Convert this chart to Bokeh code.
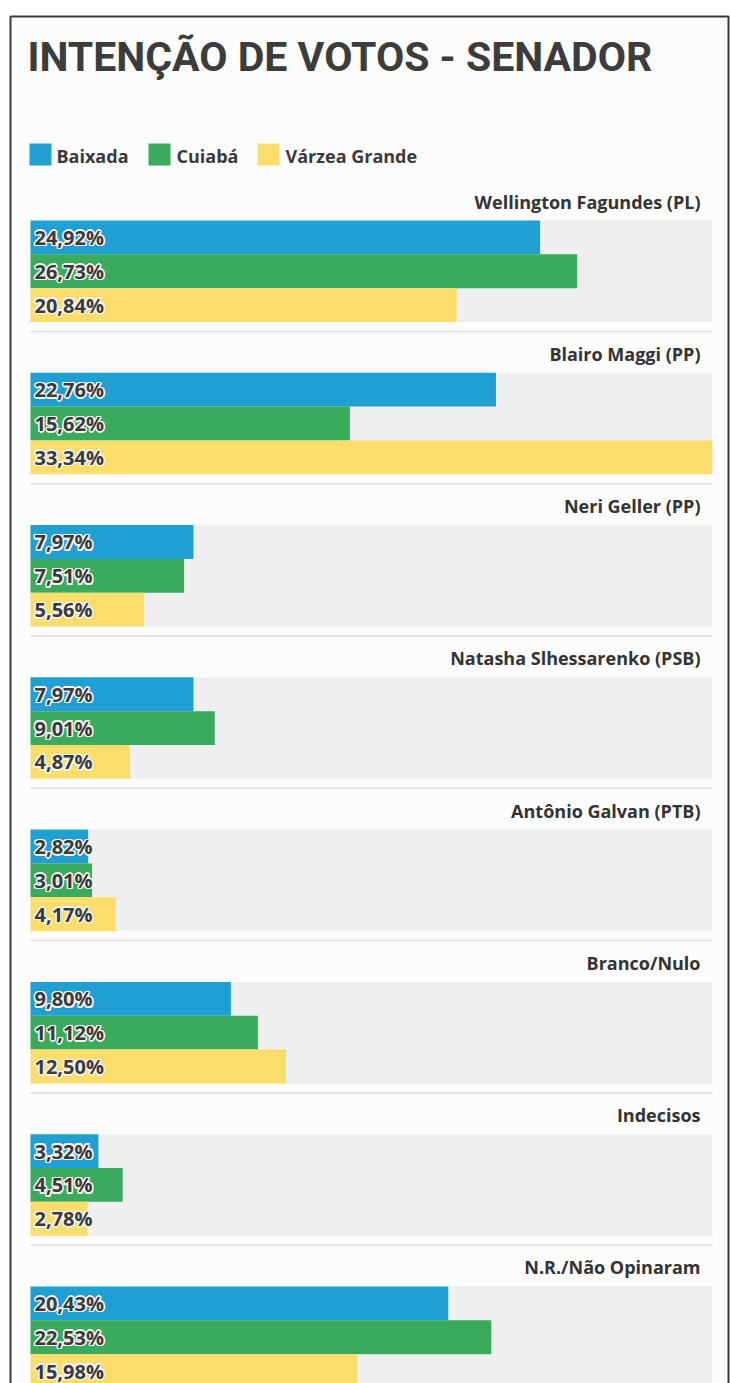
from bokeh.plotting import figure
from bokeh.models import Range1d
from bokeh.core.properties import value
from bokeh.embed import file_html
from bokeh.resources import INLINE

# ---- data ----
title = "INTENÇÃO DE VOTOS - SENADOR"
candidates = ["Wellington Fagundes (PL)", "Blairo Maggi (PP)", "Neri Geller (PP)",
              "Natasha Slhessarenko (PSB)", "Antônio Galvan (PTB)", "Branco/Nulo",
              "Indecisos", "N.R./Não Opinaram"]
regions = ["Baixada", "Cuiabá", "Várzea Grande"]
baixada = [24.92, 22.76, 7.97, 7.97, 2.82, 9.80, 3.32, 20.43]
cuiaba = [26.73, 15.62, 7.51, 9.01, 3.01, 11.12, 4.51, 22.53]
varzea = [20.84, 33.34, 5.56, 4.87, 4.17, 12.50, 2.78, 15.98]
series = [baixada, cuiaba, varzea]
colors = ["#1f9fd2", "#3aaa5c", "#fadd6a"]

# ---- geometry helpers (page pixels -> data units) ----
W, H = 730, 1383
OFF = 0         # page offset of the figure
PX = 20.45      # pixels per percentage point
X0 = 30         # page x of 0%
U = 33.84       # pixels per bar row
Y0 = 220        # page y of first bar top
G = 4.5         # rows per group


def dx(px):
    return (px - X0) / PX


def dy(py):
    return (py - Y0) / U


p = figure(width=W, height=H, output_backend="svg", toolbar_location=None,
           x_range=Range1d(dx(OFF), dx(OFF + W)), y_range=Range1d(dy(OFF + H), dy(OFF)),
           min_border=0, outline_line_color=None, background_fill_color="white",
           border_fill_color="white")
p.axis.visible = False
p.grid.visible = False

# frame
p.quad(left=[dx(10)], right=[dx(728)], top=[dy(16)], bottom=[dy(1420)],
       fill_color="#fcfcfc", line_color="#3a3a3a", line_width=2)

# title
p.text(x=[dx(27)], y=[dy(56)], text=[title], text_font=value("Roboto"),
       text_font_style="bold", text_font_size="41px", text_color="#3c3c3c",
       text_baseline="middle", text_align="left")

# legend
leg_sq_x = [40, 159, 268]
leg_tx_x = [56, 176, 285]
for k in range(3):
    p.rect(x=[dx(leg_sq_x[k])], y=[dy(154)], width=22 / PX, height=22 / U,
           fill_color=colors[k], line_color=None)
    p.text(x=[dx(leg_tx_x[k])], y=[dy(155)], text=[regions[k]],
           text_font=value("Open Sans"), text_font_style="bold", text_font_size="18px",
           text_color="#3a3a3a", text_baseline="middle", text_align="left")

maxv = max(max(s) for s in series)
n = len(candidates)
tops = [i * G for i in range(n)]

# background bands
p.quad(left=[0] * n, right=[maxv] * n, top=tops, bottom=[t + 3 for t in tops],
       fill_color="#efefef", line_color=None)
# separators
p.segment(x0=[0] * n, x1=[maxv] * n, y0=[t + 3.28 for t in tops], y1=[t + 3.28 for t in tops],
          line_color="#e2e2e2", line_width=2)

# group labels
p.text(x=[dx(700)] * n, y=[t - 19 / U for t in tops], text=candidates,
       text_font=value("Open Sans"), text_font_style="bold", text_font_size="18px",
       text_color="#333333", text_baseline="middle", text_align="right")

# bars + value labels (white halo, then dark text)
halo = [(-1.5, 0), (1.5, 0), (0, -1.5), (0, 1.5), (-1.2, -1.2), (1.2, 1.2), (-1.2, 1.2), (1.2, -1.2)]
for j, s in enumerate(series):
    ys = [t + j + 0.5 for t in tops]
    p.hbar(y=ys, left=0, right=s, height=1, fill_color=colors[j], line_color=None)
    labels = [f"{v:.2f}".replace(".", ",") + "%" for v in s]
    for ox, oy in halo:
        p.text(x=[dx(34)] * n, y=ys, text=labels, x_offset=ox, y_offset=oy,
               text_font=value("Open Sans"), text_font_style="bold", text_font_size="20px",
               text_color="#f4f4f4", text_baseline="middle", text_align="left")
    p.text(x=[dx(34)] * n, y=ys, text=labels, text_font=value("Open Sans"),
           text_font_style="bold", text_font_size="20px", text_color="#3a3a3a",
           text_baseline="middle", text_align="left")

open("out.html", "w").write(file_html(p, INLINE))
